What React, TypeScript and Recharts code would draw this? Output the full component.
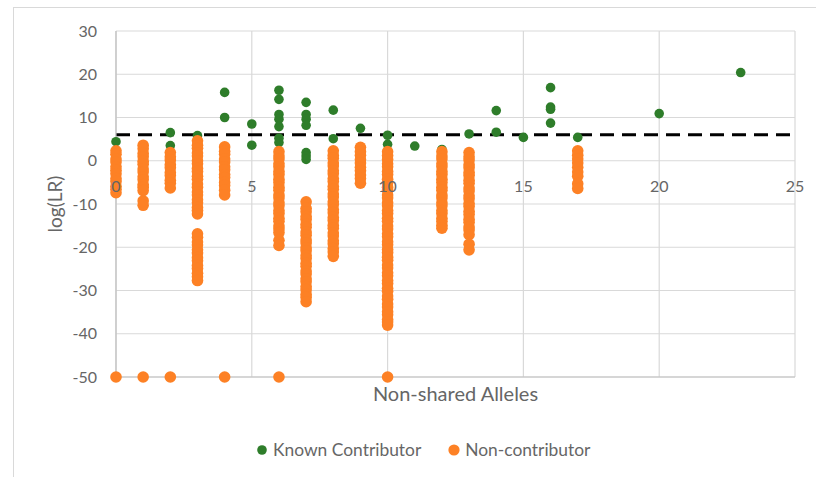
import React from 'react';
import {
  ScatterChart, Scatter, XAxis, YAxis, CartesianGrid, ReferenceLine, Legend, Label,
} from 'recharts';

// axis ticks
const xTicks = [0, 5, 10, 15, 20, 25];
const yTicks = [-50, -40, -30, -20, -10, 0, 10, 20, 30];
const threshold = 6;

// known contributors: non-shared allele count with its log(LR), pairwise
const knownAlleles = [
  0, 2, 2, 3, 4, 4, 5, 5,
  6, 6, 6, 6, 6, 6, 6,
  7, 7, 7, 7, 7, 7, 7,
  8, 8, 9, 10, 10, 11, 12, 13, 14, 14, 15,
  16, 16, 16, 16, 17, 20, 23,
];
const knownLR = [
  4.4, 6.5, 3.5, 5.8, 15.8, 10.0, 8.5, 3.6,
  16.3, 14.2, 10.7, 9.6, 7.9, 5.2, 4.2,
  13.5, 10.7, 9.6, 8.2, 1.9, 1.1, 0.3,
  11.7, 5.1, 7.5, 5.9, 3.8, 3.4, 2.6, 6.2, 11.6, 6.6, 5.4,
  16.9, 12.4, 11.9, 8.7, 5.4, 10.9, 20.4,
];

// non-contributors, log(LR) per non-shared allele count (-50 = excluded)
const nc0 = [2.3, 1.5, 0.4, -0.3, -1.4, -2.2, -3.0, -4.1, -4.8, -5.9, -6.6, -7.4, -50];
const nc1 = [3.6, 2.8, 1.7, 0.9, -0.1, -0.8, -1.9, -2.6, -3.7, -4.4, -5.5, -6.1, -6.9, -9.3, -10.3, -50];
const nc2 = [1.9, 0.9, 0.2, -0.9, -1.6, -2.7, -3.4, -4.5, -5.2, -6.3, -50];
const nc3 = [
  4.6, 3.6, 2.9, 1.8, 1.1, 0.0, -0.7, -1.8, -2.5, -3.6, -4.3, -5.4, -6.1, -7.2,
  -7.9, -9.0, -9.7, -10.8, -11.5, -12.3,
  -16.9, -17.7, -18.8, -19.5, -20.6, -21.3, -22.4, -23.1, -24.2, -24.9, -26.0, -26.8, -27.7,
];
const nc4 = [3.2, 2.2, 1.5, 0.4, -0.3, -1.4, -2.1, -3.2, -3.9, -5.0, -5.7, -6.8, -7.9, -50];
const nc6 = [
  2.1, 1.1, 0.4, -0.7, -1.4, -2.5, -3.2, -4.3, -5.0, -6.1, -6.8, -7.9, -8.6,
  -9.7, -10.4, -11.5, -12.2, -13.3, -14.0, -15.1, -15.8, -16.6, -18.4, -19.6, -50,
];
const nc7 = [
  -9.5, -11.0, -11.8, -12.9, -13.6, -14.7, -15.4, -16.5, -17.2, -18.3, -19.0, -20.1, -20.8,
  -21.9, -22.6, -23.7, -24.4, -25.5, -26.2, -27.3, -28.0, -29.1, -29.8, -30.9, -31.6, -32.6,
];
const nc8 = [
  2.3, 1.3, 0.6, -0.5, -1.2, -2.3, -3.0, -4.1, -4.8, -5.9, -6.6, -7.7, -8.4, -9.5,
  -10.2, -11.3, -12.0, -13.1, -13.8, -14.9, -15.6, -16.7, -17.4, -18.5, -19.2, -20.3, -21.1, -22.1,
];
const nc9 = [3.1, 2.1, 1.3, 0.3, -0.5, -1.5, -2.3, -3.3, -4.1, -5.2];
const nc10 = [
  2.1, 1.2, 0.3, -0.7, -1.4, -2.5, -3.2, -4.3, -5.0, -6.1, -6.8, -7.9, -8.6, -9.7,
  -10.4, -11.5, -12.2, -13.3, -14.0, -15.1, -15.8, -16.9, -17.6, -18.7, -19.4, -20.5,
  -21.2, -22.3, -23.0, -24.1, -24.8, -25.9, -26.6, -27.7, -28.4, -29.5, -30.2, -31.3,
  -32.0, -33.1, -33.8, -34.9, -35.6, -36.7, -37.3, -38.0, -50,
];
const nc12 = [
  2.1, 1.1, 0.4, -0.7, -1.4, -2.5, -3.2, -4.3, -5.0, -6.1, -6.8, -7.9, -8.6,
  -9.7, -10.4, -11.5, -12.2, -13.3, -14.0, -14.9, -15.6,
];
const nc13 = [
  1.9, 0.9, 0.2, -0.9, -1.6, -2.7, -3.4, -4.5, -5.2, -6.3, -7.0, -8.1, -8.8,
  -9.9, -10.6, -11.7, -12.4, -13.5, -14.2, -15.3, -16.0, -17.1, -19.3, -20.6,
];
const nc17 = [2.3, 1.3, 0.4, -0.5, -1.5, -2.6, -3.6, -5.3, -6.4];

const nonContributorColumns: [number, number[]][] = [
  [0, nc0], [1, nc1], [2, nc2], [3, nc3], [4, nc4], [6, nc6], [7, nc7],
  [8, nc8], [9, nc9], [10, nc10], [12, nc12], [13, nc13], [17, nc17],
];

const knownData = knownAlleles.map((x, i) => ({ x, y: knownLR[i] }));
const nonContributorData = nonContributorColumns.flatMap(([x, ys]) => ys.map((y) => ({ x, y })));

const GREEN = '#2e7d2a';
const ORANGE = '#fd8125';
const TEXT = '#666666';
const GRID = '#d9d9d9';
const FONT = 'Lato, "Open Sans", sans-serif';

const W = 816;
const H = 477;
const PLOT_TOP = 31;
const PLOT_BOTTOM = 377;
const Y_MIN = -50;
const Y_MAX = 30;
// y pixel where log(LR) = 0; the x labels sit under that line
const ZERO_Y = PLOT_TOP + ((PLOT_BOTTOM - PLOT_TOP) * Y_MAX) / (Y_MAX - Y_MIN);

const dot = (r: number) => (props: any) => (
  <circle cx={props.cx} cy={props.cy} r={r} fill={props.fill} />
);

const XTick = ({ x, payload }: any) => (
  <text x={x} y={ZERO_Y + 31} textAnchor="middle" fill={TEXT} fontSize={16} fontFamily={FONT}>
    {payload.value}
  </text>
);

const renderLegend = (props: any) => (
  <div style={{ display: 'flex', alignItems: 'center', fontFamily: FONT, fontSize: 17.4, color: TEXT }}>
    {props.payload.map((entry: any, i: number) => (
      <span key={entry.value} style={{ display: 'flex', alignItems: 'center', marginRight: i === 0 ? 27 : 0 }}>
        <svg width={12} height={12} style={{ marginRight: 5 }}>
          <circle cx={6} cy={6} r={i === 0 ? 4.8 : 5.6} fill={entry.color} />
        </svg>
        {entry.value}
      </span>
    ))}
  </div>
);

export default function App() {
  return (
    <div style={{ position: 'absolute', left: 0, top: 0, width: W, height: H, background: '#fff' }}>
      <div
        style={{
          position: 'absolute', left: 13, top: 7, width: W - 13, height: H - 7,
          borderLeft: `1px solid ${GRID}`, borderTop: `1px solid ${GRID}`,
        }}
      />
      <div style={{ position: 'absolute', left: 0, top: 0 }}>
        <ScatterChart width={W} height={H} margin={{ top: PLOT_TOP, right: 21, bottom: 70, left: 0 }}>
          <CartesianGrid stroke={GRID} strokeWidth={1.2} />
          <Scatter name="Known Contributor" data={knownData} fill={GREEN} shape={dot(4.8)} isAnimationActive={false} />
          <Scatter name="Non-contributor" data={nonContributorData} fill={ORANGE} shape={dot(5.8)} isAnimationActive={false} />
          <ReferenceLine y={threshold} stroke="#000" strokeWidth={3} strokeDasharray="14 8" />
          <XAxis
            type="number"
            dataKey="x"
            domain={[0, 25]}
            ticks={xTicks}
            height={30}
            tickLine={false}
            axisLine={{ stroke: '#bfbfbf', strokeWidth: 1.2 }}
            tick={<XTick />}
          >
            <Label
              content={({ viewBox }: any) => (
                <text
                  x={viewBox.x + viewBox.width / 2}
                  y={viewBox.y + 24}
                  textAnchor="middle"
                  fill={TEXT}
                  fontSize={20}
                  fontFamily={FONT}
                >
                  Non-shared Alleles
                </text>
              )}
            />
          </XAxis>
          <YAxis
            type="number"
            dataKey="y"
            domain={[Y_MIN, Y_MAX]}
            ticks={yTicks}
            width={116}
            tickLine={false}
            tickSize={0}
            tickMargin={19}
            axisLine={{ stroke: '#bfbfbf', strokeWidth: 1.2 }}
            tick={{ fill: TEXT, fontSize: 16, fontFamily: FONT }}
            interval={0}
          >
            <Label
              content={({ viewBox }: any) => {
                const cy = viewBox.y + viewBox.height / 2;
                return (
                  <text
                    x={55}
                    y={cy}
                    dy="0.35em"
                    transform={`rotate(-90 55 ${cy})`}
                    textAnchor="middle"
                    fill={TEXT}
                    fontSize={19}
                    fontFamily={FONT}
                  >
                    log(LR)
                  </text>
                );
              }}
            />
          </YAxis>
          <Legend
            verticalAlign="middle"
            content={renderLegend}
            wrapperStyle={{ top: 439, left: 256, width: 'auto' }}
          />
        </ScatterChart>
      </div>
    </div>
  );
}
